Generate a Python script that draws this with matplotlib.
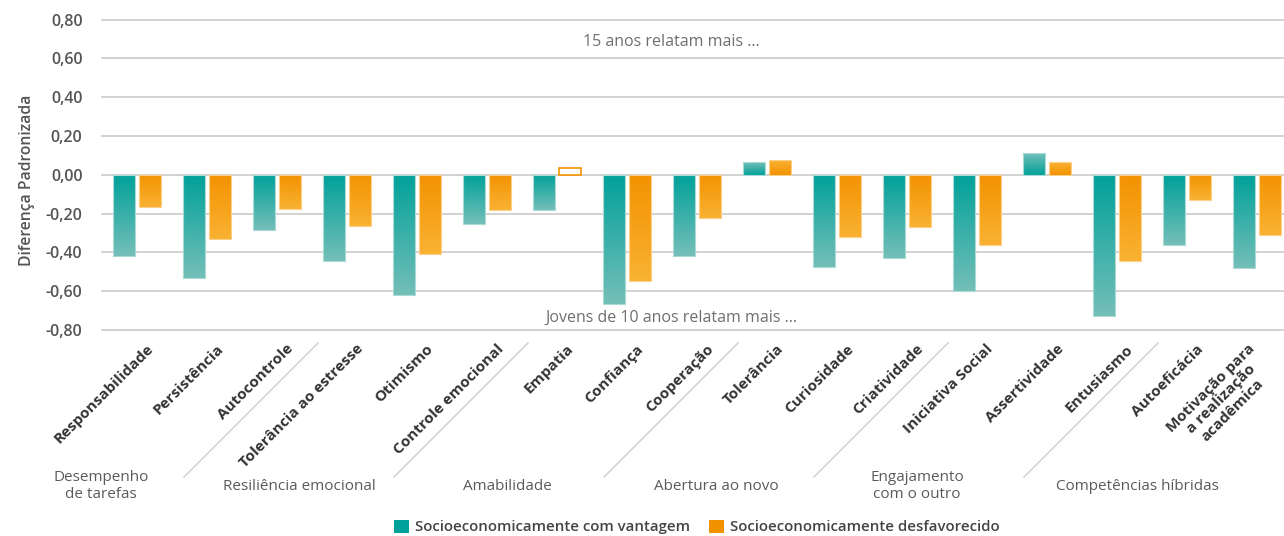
import matplotlib
matplotlib.use('Agg')
import matplotlib.pyplot as plt
import numpy as np
from matplotlib.patches import Patch
from matplotlib.lines import Line2D
from matplotlib.colors import LinearSegmentedColormap
import matplotlib.transforms as mtransforms

plt.rcParams['font.family'] = ['Open Sans', 'DejaVu Sans']

# ---------------- data ----------------
categories = ['Responsabilidade', 'Persistência', 'Autocontrole',
              'Tolerância ao estresse', 'Otimismo', 'Controle emocional',
              'Empatia', 'Confiança', 'Cooperação',
              'Tolerância', 'Curiosidade', 'Criatividade',
              'Iniciativa Social', 'Assertividade', 'Entusiasmo',
              'Autoeficácia', 'Motivação para\na realização\nacadêmica']
advantaged = [-0.42, -0.533, -0.287, -0.445, -0.62, -0.253,
              -0.184, -0.665, -0.42, 0.065, -0.476, -0.43,
              -0.60, 0.11, -0.73, -0.36, -0.478]
disadvantaged = [-0.168, -0.333, -0.174, -0.266, -0.41, -0.184,
                 0.036, -0.545, -0.223, 0.076, -0.321, -0.267,
                 -0.36, 0.065, -0.443, -0.13, -0.31]
disadv_significant = [True, True, True, True, True, True,
                      False, True, True, True, True, True,
                      True, True, True, True, True]
groups = ['Desempenho\nde tarefas', 'Resiliência emocional', 'Amabilidade',
          'Abertura ao novo', 'Engajamento\ncom o outro', 'Competências híbridas']
group_sizes = [3, 3, 3, 3, 3, 2]
series_names = ['Socioeconomicamente com vantagem', 'Socioeconomicamente desfavorecido']
yticks = [-0.8, -0.6, -0.4, -0.2, 0.0, 0.2, 0.4, 0.6, 0.8]
ytick_labels = ['-0,80', '-0,60', '-0,40', '-0,20', '0,00', '0,20', '0,40', '0,60', '0,80']
note_top = '15 anos relatam mais ...'
note_bottom = 'Jovens de 10 anos relatam mais ...'
ylabel = 'Diferença Padronizada'

# ---------------- style ----------------
TEAL_D, TEAL_L = '#00A19A', '#74BFB8'
ORNG_D, ORNG_L = '#F39200', '#F9B233'
W, H = 1284, 536
fig = plt.figure(figsize=(W / 100, H / 100), dpi=100)
ax_left, ax_right = 102, 1284
ax_top, ax_bot = 19.5, 330
ax = fig.add_axes([ax_left / W, 1 - ax_bot / H, (ax_right - ax_left) / W, (ax_bot - ax_top) / H])
step_px = 70.0
xlim = (-0.5, -0.5 + (ax_right - ax_left) / step_px)

for s in ax.spines.values():
    s.set_visible(False)
ax.set_yticks(yticks)
ax.set_yticklabels(ytick_labels)
ax.grid(axis='y', color='#cfcfcf', lw=1.3, zorder=0)
ax.set_axisbelow(True)
for gl in ax.get_ygridlines():
    gl.set_clip_on(False)
ax.tick_params(axis='y', length=0, pad=14, labelsize=11.5, labelcolor='#555555')
for t in ax.get_yticklabels():
    t.set_fontweight('semibold')

x = np.arange(len(categories))
bw = 0.314
off = 0.186

cm_teal = LinearSegmentedColormap.from_list('t', [TEAL_D, TEAL_L])
cm_orng = LinearSegmentedColormap.from_list('o', [ORNG_D, ORNG_L])
grad = np.linspace(0, 1, 256).reshape(-1, 1)

bars_a = ax.bar(x - off, advantaged, bw, facecolor='none', edgecolor='#a9dad6', lw=0.8, zorder=3)
bars_d = ax.bar(x + off, disadvantaged, bw, facecolor='none', edgecolor='#fcd08a', lw=0.8, zorder=3)

def fill_gradient(bar, cmap):
    x0 = bar.get_x()
    w = bar.get_width()
    h = bar.get_height()
    im = ax.imshow(grad, cmap=cmap, origin='lower', aspect='auto',
                   extent=(x0, x0 + w, 0, h), zorder=2, interpolation='bilinear')
    im.set_clip_path(bar)

for b in bars_a:
    fill_gradient(b, cm_teal)
for b, sig in zip(bars_d, disadv_significant):
    if sig:
        fill_gradient(b, cm_orng)
    else:
        b.set_facecolor('white')
        b.set_edgecolor(ORNG_D)
        b.set_linewidth(1.2)

ax.set_xlim(*xlim)
ax.set_ylim(-0.8, 0.8)

# x tick labels
ax.set_xticks(x)
ax.set_xticklabels(categories, rotation=45, ha='right', va='top',
                   fontsize=11, fontweight='bold', color='#333333',
                   multialignment='center', linespacing=1.1)
ax.tick_params(axis='x', length=0, pad=8.5)
for t in ax.get_xticklabels():
    dx = 22 if '\n' in t.get_text() else 19
    shift = mtransforms.ScaledTranslation(dx / 100, 0, fig.dpi_scale_trans)
    t.set_transform(t.get_transform() + shift)

# notes
ax.text((671 - 137) / step_px, 0.685, note_top, ha='center', va='center',
        fontsize=11.5, color='#6f6f6f')
ax.text((671 - 137) / step_px, -0.735, note_bottom, ha='center', va='center',
        fontsize=11.5, color='#6f6f6f')

# y label
fig.text(27 / W, 1 - 180 / H, ylabel, rotation=90, ha='center', va='center',
         fontsize=11.3, fontweight='semibold', color='#555555')

# group separators & labels
starts = np.cumsum([0] + group_sizes[:-1])
ident = mtransforms.IdentityTransform()
for s in starts[1:]:
    bx, _ = ax.transData.transform((s - 0.5, 0))
    tx = bx + 6
    ty = H - 343
    fig.add_artist(Line2D([tx, tx - 134], [ty, ty - 134], color='#d2d2d2', lw=1.1,
                          transform=ident))

group_label_px = [101, 299, 507, 716, 917, 1137]
for g, px in zip(groups, group_label_px):
    fig.text(px / W, 1 - 486 / H, g, ha='center', va='center', fontsize=11,
             color='#5a5a5a', linespacing=1.15)

# legend
handles = [Patch(facecolor=TEAL_D, edgecolor='none'), Patch(facecolor=ORNG_D, edgecolor='none')]
leg = fig.legend(handles, series_names, loc='center', bbox_to_anchor=(697 / W, 1 - 527 / H),
                 ncol=2, frameon=False, handlelength=1.0, handleheight=1.0,
                 handletextpad=0.4, columnspacing=1.3, borderpad=0, fontsize=10.8)
for t in leg.get_texts():
    t.set_fontweight('semibold')
    t.set_color('#444444')

fig.savefig('out.png', dpi=100, facecolor='white')
